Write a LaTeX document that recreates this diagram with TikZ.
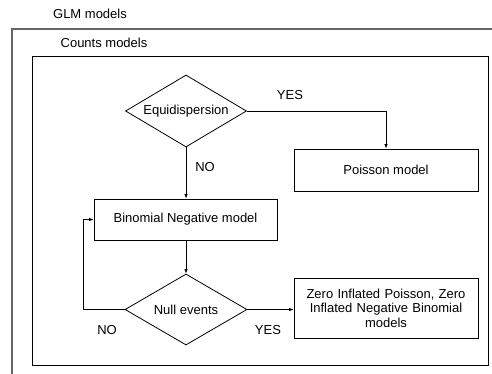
\documentclass[tikz,border=0pt]{standalone}
\usepackage{fontspec}
\setmainfont{Liberation Sans}
\usetikzlibrary{shapes.geometric,arrows.meta}
\tikzset{
  lbl/.style={font=\fontsize{13}{15.6}\selectfont, inner sep=0pt},
  boxnode/.style={draw, line width=0.8pt, rectangle, inner sep=0pt, font=\fontsize{13}{15.6}\selectfont, align=center},
  decision/.style={draw, line width=0.8pt, diamond, inner sep=0pt, font=\fontsize{13}{15.6}\selectfont},
  conn/.style={line width=0.8pt, -{Latex[length=4.5pt,width=3.5pt]}},
  plainconn/.style={line width=0.8pt},
}
\begin{document}
\begin{tikzpicture}[x=1pt,y=-1pt]
\useasboundingbox (0,0) rectangle (492,374);
\fill[white] (0,0) rectangle (492,374);
% outer GLM container (only left and top visible)
\draw[line width=1.2pt, gray!80!black] (12,374) -- (12,29) -- (492,29);
\node[lbl] (glm) at (90,14) {GLM models};
% counts container
\draw[line width=1pt] (32,57) rectangle (488,365);
\node[lbl] (counts) at (104,43) {Counts models};
% nodes
\node[decision, minimum width=121pt, minimum height=72pt, aspect=1.68] (eq) at (186,111) {Equidispersion};
\node[boxnode, minimum width=184pt, minimum height=42pt] (pois) at (386,170) {Poisson model};
\node[boxnode, minimum width=183pt, minimum height=41pt] (binom) at (185.5,219.5) {Binomial Negative model};
\node[decision, minimum width=122pt, minimum height=71pt, aspect=1.72] (null) at (186,309.5) {Null events};
\node[boxnode, minimum width=184pt, minimum height=60pt, text width=176pt] (zero) at (386,308) {Zero Inflated Poisson, Zero\\[-1pt]Inflated Negative Binomial\\[-1pt]models};
% connectors
\draw[conn] (eq.east) -| (pois.north);
\draw[conn] (eq.south) -- (eq.south |- binom.north);
\draw[conn] (binom.south -| null.north) -- (null.north);
\draw[conn] (null.west) -- ++(-41,0) |- (binom.west);
\draw[conn] (null.east) -- (null.east -| zero.west);
% labels
\node[lbl] (yes1) at (290,95) {YES};
\node[lbl] (no1) at (205,167) {NO};
\node[lbl] (no2) at (107,330) {NO};
\node[lbl] (yes2) at (268,330) {YES};
\end{tikzpicture}
\end{document}
